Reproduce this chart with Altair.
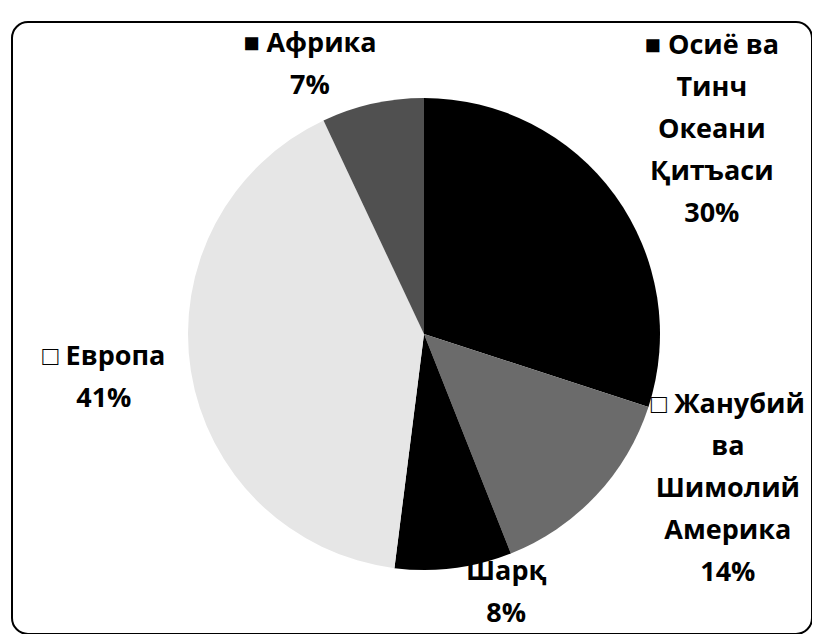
import math
import altair as alt
import pandas as pd

# ---- data ----
categories = ["Осиё ва Тинч Океани Қитъаси", "Жанубий ва Шимолий Америка", "Шарқ", "Европа", "Африка"]
values = [30, 14, 8, 41, 7]
label_names = ["■ Осиё ва\nТинч\nОкеани\nҚитъаси", "□ Жанубий\nва\nШимолий\nАмерика", "Шарқ", "□ Европа", "■ Африка"]
slice_colors = ["#000000", "#6b6b6b", "#000000", "#e6e6e6", "#505050"]

df = pd.DataFrame({"category": categories, "value": values, "order": list(range(len(categories))), "name": label_names})
df["label"] = df["name"] + "\n" + df["value"].astype(str) + "%"

# ---- layout (not data): anchor of each label's first line ----
CX, CY, R = 412, 312, 236
label_angle_shift = [-2.5, -8.35, -3.29, 1.36, -2.46]   # in percent-of-circle units
label_radius = [407, 312, 252, 321, 312]
theta_scale = alt.Scale(domain=[0, 100], range=[0, 2 * math.pi])

base = alt.Chart(df)

pie = base.mark_arc(outerRadius=R, strokeWidth=0).encode(
    theta=alt.Theta("value:Q", stack=True, scale=theta_scale),
    order=alt.Order("order:Q"),
    color=alt.Color("category:N", scale=alt.Scale(domain=categories, range=slice_colors), legend=None),
    x=alt.value(CX),
    y=alt.value(CY),
)

labels = base.transform_window(
    cum="sum(value)", sort=[alt.SortField("order")], frame=[None, 0]
).transform_calculate(
    mid="datum.cum - datum.value / 2",
    ang=f"datum.mid + {label_angle_shift}[datum.order]",
    r=f"{label_radius}[datum.order]",
).mark_text(
    font="Open Sans", fontSize=27, fontWeight="bold", lineBreak="\n", lineHeight=42,
    align="center", baseline="middle", color="black",
).encode(
    theta=alt.Theta("ang:Q", stack=False, scale=theta_scale),
    radius=alt.Radius("r:Q", scale=None),
    text="label:N",
    x=alt.value(CX),
    y=alt.value(CY),
)

chart = alt.layer(pie, labels).resolve_scale(theta="independent", radius="independent").properties(
    width=800, height=612, padding={"left": 4, "top": 14, "right": 0, "bottom": 0}
).configure_view(stroke="black", strokeWidth=2, cornerRadius=16)

chart.save("out.html", embed_options={"renderer": "svg", "actions": False})
